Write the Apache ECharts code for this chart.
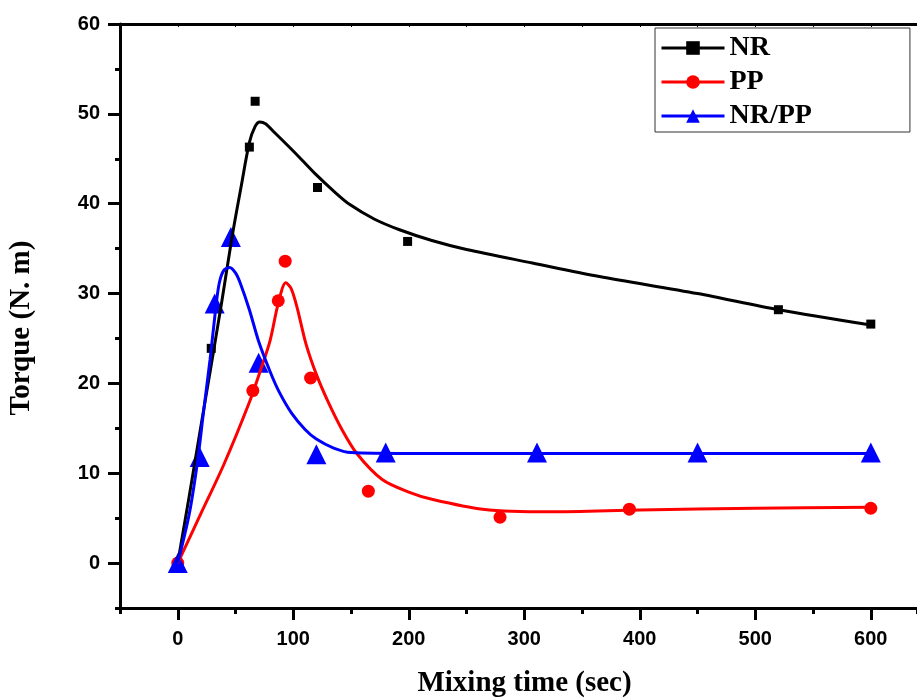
<!DOCTYPE html>
<html>
<head>
<meta charset="utf-8">
<script src="https://cdn.jsdelivr.net/npm/echarts@6/dist/echarts.min.js"></script>
<style>
  html, body { margin: 0; padding: 0; background: #fff; }
  #chart { width: 917px; height: 698px; }
</style>
</head>
<body>
<div id="chart"></div>
<script>
// measured points
const nrTime = [0, 29, 62, 67, 121, 199, 520, 600]
const nrTorque = [0, 23.9, 46.3, 51.4, 41.8, 35.8, 28.2, 26.6]
const ppTime = [0, 65, 87, 93, 115, 165, 279, 391, 600]
const ppTorque = [0, 19.2, 29.2, 33.6, 20.6, 8.0, 5.1, 6.0, 6.1]
const blendTime = [0, 19, 32, 46, 70, 120, 180, 311, 450, 600]
const blendTorque = [0, 11.8, 28.9, 36.3, 22.3, 12.1, 12.3, 12.3, 12.3, 12.3]

// fitted curves
const nrFitTime = [0, 10, 20, 28, 38, 47, 55, 62, 67, 71, 76, 84, 95, 105, 120, 135, 149, 170, 192, 220, 250, 307, 365, 450, 520, 600]
const nrFitTorque = [0, 7.5, 15.2, 21.3, 29, 36.3, 42, 46.8, 48.6, 49.1, 48.9, 47.9, 46.5, 45.2, 43.2, 41.4, 39.9, 38.3, 37.1, 35.9, 34.9, 33.4, 31.9, 30, 28.2, 26.5]
const ppFitTime = [0, 20, 40, 62, 72, 80, 87, 93.5, 98, 103, 111, 120, 130, 142, 155, 177, 200, 220, 264, 321, 400, 500, 600]
const ppFitTorque = [0, 5.5, 11.0, 17.9, 21.6, 24.8, 28.9, 31.2, 30.6, 28.6, 24.4, 21.0, 18.0, 14.9, 12.2, 9.3, 7.9, 7.1, 6.0, 5.7, 5.9, 6.1, 6.2]
const blendFitTime = [0, 10, 17, 22, 28, 33, 36, 40, 45, 50, 54, 62, 70, 80, 88, 99, 110, 120, 135, 150, 200, 300, 450, 600]
const blendFitTorque = [0, 5.5, 11.2, 16.5, 22.7, 28.5, 31.2, 32.6, 32.9, 32.3, 31.2, 28.2, 24.7, 21.3, 19.0, 16.6, 14.9, 13.8, 12.8, 12.3, 12.2, 12.2, 12.2, 12.2]

const majorX = [0, 100, 200, 300, 400, 500, 600]
const majorY = [0, 10, 20, 30, 40, 50, 60]

function pairs (xs, ys) {
  return xs.map((x, i) => [x, ys[i]])
}

const tickFont = { fontFamily: 'Liberation Sans', fontWeight: 'bold', fontSize: 20, color: '#000' }
const titleFont = { fontFamily: 'Liberation Serif', fontWeight: 'bold', color: '#000' }

const chart = echarts.init(document.getElementById('chart'))

function fitLine (name, xs, ys, color, symbol) {
  return {
    name: name,
    type: 'line',
    data: pairs(xs, ys),
    smooth: 0.3,
    symbol: symbol,
    showSymbol: false,
    lineStyle: { color: color, width: 3 },
    itemStyle: { color: color },
    silent: true
  }
}

function points (name, xs, ys, color, symbol, size) {
  return {
    name: name,
    type: 'scatter',
    data: pairs(xs, ys),
    symbol: symbol,
    symbolSize: size,
    itemStyle: { color: color, opacity: 1 }
  }
}

// the frame runs past the right edge of the picture, so the axis is cut at 640
chart.setOption({
  backgroundColor: '#fff',
  animation: false,
  grid: { left: 120, top: 24, bottom: 90, right: 0, containLabel: false, outerBoundsMode: 'none' },
  legend: {
    data: ['NR', 'PP', 'NR/PP'],
    orient: 'vertical',
    left: 655,
    top: 28,
    padding: [6, 98, 2, 5],
    itemWidth: 63,
    itemHeight: 17,
    itemGap: 6,
    borderColor: '#333',
    borderWidth: 1,
    lineStyle: { width: 3 },
    textStyle: Object.assign({ fontSize: 28, lineHeight: 28 }, titleFont)
  },
  xAxis: [
    {
      type: 'value', min: -50, max: 640, interval: 50,
      name: 'Mixing time (sec)', nameLocation: 'middle', nameGap: 61,
      nameTextStyle: Object.assign({ fontSize: 29, padding: [0, 0, 0, 12] }, titleFont),
      axisLine: { onZero: false, lineStyle: { color: '#000', width: 3 } },
      axisTick: { length: 6, lineStyle: { color: '#000', width: 3 } },
      axisLabel: { show: false },
      splitLine: { show: false }
    },
    {
      type: 'value', min: -50, max: 640, position: 'bottom',
      axisLine: { show: false, onZero: false },
      axisTick: { customValues: majorX, length: 12, lineStyle: { color: '#000', width: 3 } },
      axisLabel: Object.assign({ customValues: majorX, margin: 21 }, tickFont),
      splitLine: { show: false }
    },
    {
      type: 'value', min: -50, max: 640, interval: 50, position: 'top',
      axisLine: { onZero: false, lineStyle: { color: '#000', width: 3 } },
      axisTick: { inside: true, length: 3, lineStyle: { color: '#000', width: 1 } },
      axisLabel: { show: false },
      splitLine: { show: false }
    }
  ],
  yAxis: [
    {
      type: 'value', min: -5, max: 60, interval: 5,
      name: 'Torque (N. m)', nameLocation: 'middle', nameGap: 84, nameRotate: 90,
      nameTextStyle: Object.assign({ fontSize: 29, padding: [0, 24, 0, 0] }, titleFont),
      axisLine: { show: true, onZero: false, lineStyle: { color: '#000', width: 3 } },
      axisTick: { show: true, length: 5, lineStyle: { color: '#000', width: 3 } },
      axisLabel: { show: false },
      splitLine: { show: false }
    },
    {
      type: 'value', min: -5, max: 60, position: 'left',
      axisLine: { show: false, onZero: false },
      axisTick: { show: true, customValues: majorY, length: 12, lineStyle: { color: '#000', width: 3 } },
      axisLabel: Object.assign({ customValues: majorY, margin: 20 }, tickFont),
      splitLine: { show: false }
    }
  ],
  series: [
    fitLine('NR', nrFitTime, nrFitTorque, '#000000', 'rect'),
    fitLine('PP', ppFitTime, ppFitTorque, '#ff0000', 'circle'),
    fitLine('NR/PP', blendFitTime, blendFitTorque, '#0000ff', 'triangle'),
    points('NR', nrTime, nrTorque, '#000000', 'rect', 9),
    points('PP', ppTime, ppTorque, '#ff0000', 'circle', 13),
    points('NR/PP', blendTime, blendTorque, '#0000ff', 'triangle', 20)
  ]
})
</script>
</body>
</html>
